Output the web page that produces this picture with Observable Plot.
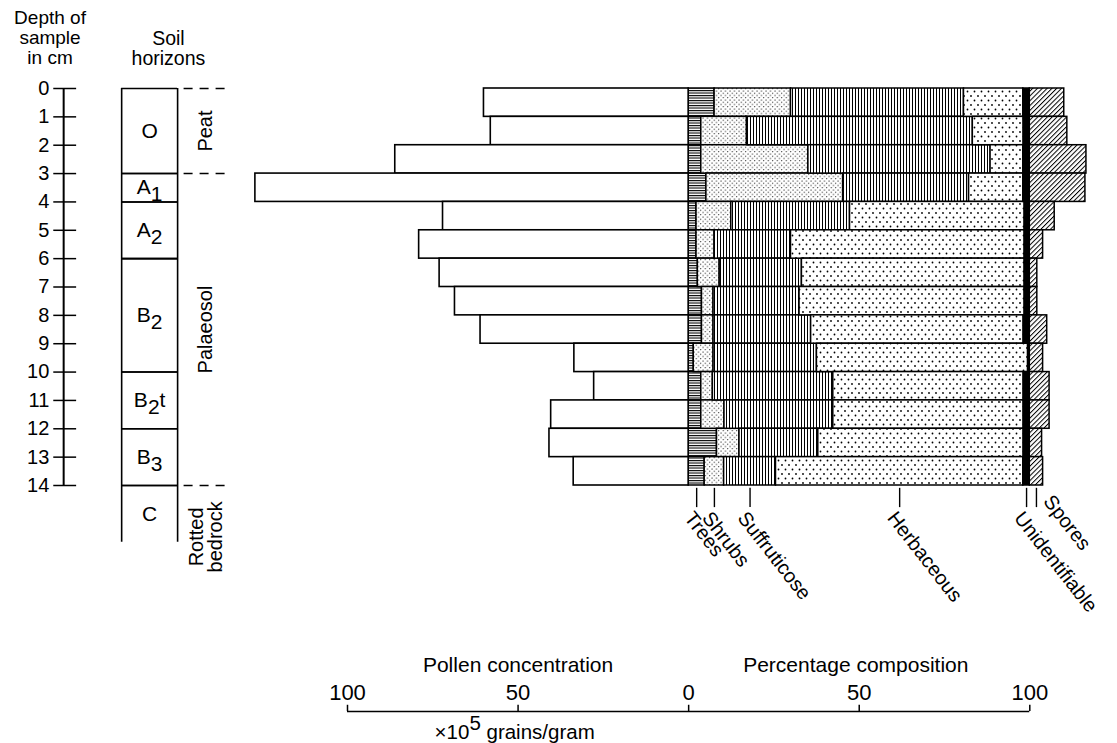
<!DOCTYPE html>
<html>
<head>
<meta charset="utf-8">
<script src="https://cdn.jsdelivr.net/npm/d3@7"></script>
<script src="https://cdn.jsdelivr.net/npm/@observablehq/plot@0.6"></script>
<style>
  html, body { margin: 0; padding: 0; background: #fff; }
  #chart { width: 1117px; height: 743px; overflow: hidden; }
</style>
</head>
<body>
<div id="chart"></div>
<script>
// ---------------- DATA ----------------
const depthTicks = [0,1,2,3,4,5,6,7,8,9,10,11,12,13,14];
const sampleTop = [0,1,2,3,4,5,6,7,8,9,10,11,12,13];           // each sample spans 1 cm
const pollenConcentration = [60,58,86,127,72,79,73,68.5,61,33.5,27.7,40.3,40.8,33.7]; // x10^5 grains/gram

const taxa = ["Trees","Shrubs","Suffruticose","Herbaceous","Unidentifiable","Spores"];
const trees          = [7.6, 3.7, 3.7, 5.2, 2.3, 2.3, 2.7, 3.9, 3.9, 1.5, 3.7, 3.7, 8.3, 4.7];
const shrubs         = [22.4,13.4,31.4,40.1,10.2, 5.3, 6.4, 3.4, 3.4, 5.8, 3.4, 6.8, 6.6, 5.7];
const suffruticose   = [50.7,66.2,53.4,36.9,34.8,22.4,24.1,25.2,28.6,30.3,35.3,31.9,23.1,15.2];
const herbaceous     = [17.4,14.9, 9.6,15.9,51.2,68.5,65.3,66.0,62.3,61.9,55.8,55.8,60.2,72.5];
const unidentifiable = [1.9, 1.8, 1.9, 1.9, 1.5, 1.5, 1.5, 1.5, 1.8, 0.5, 1.8, 1.8, 1.8, 1.9];
const spores         = [10.1,11.0,16.6,16.3, 7.3, 3.9, 2.2, 2.2, 5.1, 3.9, 5.8, 5.8, 3.6, 3.9];

const horizonNames   = ["O","A_{1}","A_{2}","B_{2}","B_{2}t","B_{3}","C"];
const horizonTops    = [0,3,4,6,10,12,14];
const horizonBottoms = [3,4,6,10,12,14,16];

const formationNames   = ["Peat","Palaeosol","Rotted\nbedrock"];
const formationTops    = [0,3,14];
const formationBottoms = [3,14,16];

const axisTicks = [-100,-50,0,50,100];   // left half: pollen concentration, right half: percentage

// ---------------- DERIVED TABLES ----------------
const series = [trees, shrubs, suffruticose, herbaceous, unidentifiable, spores];
const segments = sampleTop.flatMap((top, i) => {
  let c = 0;
  return taxa.map((t, k) => {
    const v = series[k][i];
    const s = {taxon: t, top, bottom: top + 1, x1: c, x2: c + v};
    c += v;
    return s;
  });
});
const concentration = sampleTop.map((top, i) => ({top, bottom: top + 1, value: pollenConcentration[i]}));
const lastTop = sampleTop[sampleTop.length - 1];
const taxonLabels = taxa.map(t => {
  const s = segments.find(d => d.top === lastTop && d.taxon === t);
  return {taxon: t, x: (s.x1 + s.x2) / 2};
});
const horizons = horizonNames.map((n, i) => ({name: n, top: horizonTops[i], bottom: horizonBottoms[i]}));
const formations = formationNames.map((n, i) => ({name: n, top: formationTops[i], bottom: formationBottoms[i]}));

// ---------------- LAYOUT (in scale units) ----------------
const X = {depthAxis: -183.2, tick1: -186.1, tick2: -179.4, depthLabel: -187.4,
           colL: -166.2, colR: -149.8, dash1: -147.9, dash2: -134.9, formation: -141.5,
           depthHead: -187.2, soilHead: -152.5};
const Y = {depthHead: -1.78, soilHead: -1.42, catTick1: 14.1, catTick2: 14.78,
           axis: 21.97, tickLabel: 21.3, axisTitle: 20.35, units: 22.72};

const patternFill = {
  Trees: "url(#pat-trees)", Shrubs: "url(#pat-shrubs)", Suffruticose: "url(#pat-suff)",
  Herbaceous: "url(#pat-herb)", Unidentifiable: "black", Spores: "url(#pat-spores)"
};

function patterns() {
  const defs = d3.create("svg:defs");
  const add = (id, w, h, draw, transform) => {
    const p = defs.append("pattern").attr("id", id).attr("patternUnits", "userSpaceOnUse")
      .attr("width", w).attr("height", h);
    if (transform) p.attr("patternTransform", transform);
    p.append("rect").attr("width", w).attr("height", h).attr("fill", "white");
    draw(p);
  };
  add("pat-trees", 6, 2.5, p => p.append("rect").attr("width", 6).attr("height", 1.1).attr("fill", "black"));
  add("pat-shrubs", 4.5, 4.5, p => {
    p.append("circle").attr("cx", 1).attr("cy", 1).attr("r", 0.65).attr("fill", "black");
    p.append("circle").attr("cx", 3.25).attr("cy", 3.25).attr("r", 0.65).attr("fill", "black");
  });
  add("pat-suff", 3, 6, p => p.append("rect").attr("width", 1).attr("height", 6).attr("fill", "black"));
  add("pat-herb", 7, 9, p => {
    p.append("circle").attr("cx", 1.5).attr("cy", 1.5).attr("r", 0.9).attr("fill", "black");
    p.append("circle").attr("cx", 5).attr("cy", 6).attr("r", 0.9).attr("fill", "black");
  });
  add("pat-spores", 3.4, 6, p => p.append("rect").attr("width", 1).attr("height", 6).attr("fill", "black"), "rotate(45)");
  return defs.node();
}

const font = "'Liberation Sans', Arial, Helvetica, sans-serif";
const lastTaxon = taxa[taxa.length - 1];

const plot = Plot.plot({
  width: 1117,
  height: 743,
  margin: 0,
  x: {domain: [-100, 100], range: [347, 1029.3], axis: null},
  y: {domain: [0, 14], range: [88, 485], axis: null},
  style: {fontFamily: font, fontSize: "21px", color: "black", background: "white", overflow: "visible"},
  marks: [
    patterns,
    // percentage composition
    ...taxa.map(t => Plot.rect(segments.filter(d => d.taxon === t), {
      x1: "x1", x2: "x2", y1: "top", y2: "bottom",
      fill: patternFill[t], stroke: "black", strokeWidth: 1.5
    })),
    // pollen concentration (to the left)
    Plot.rect(concentration, {x1: d => -d.value, x2: 0, y1: "top", y2: "bottom",
      fill: "white", stroke: "black", strokeWidth: 1.6}),

    // depth axis
    Plot.ruleX([X.depthAxis], {x: d => d, y1: depthTicks[0], y2: depthTicks[depthTicks.length - 1], strokeWidth: 2}),
    Plot.ruleY(depthTicks, {y: d => d, x1: X.tick1, x2: X.tick2, strokeWidth: 1.5}),
    Plot.text(depthTicks, {y: d => d, x: X.depthLabel, text: d => String(d), textAnchor: "end", fontSize: 20}),
    Plot.text(["Depth of\nsample\nin cm"], {x: X.depthHead, y: Y.depthHead, text: d => d, lineHeight: 1.05, fontSize: 19}),

    // soil horizons column
    Plot.text(["Soil\nhorizons"], {x: X.soilHead, y: Y.soilHead, text: d => d, lineHeight: 1.05, fontSize: 19.5}),
    Plot.ruleY(horizons, {y: "top", x1: X.colL, x2: X.colR, strokeWidth: 1.6}),
    Plot.ruleY(horizons.slice(0, -1), {y: "bottom", x1: X.colL, x2: X.colR, strokeWidth: 1.6}),
    Plot.ruleX([X.colL, X.colR], {x: d => d, y1: horizonTops[0], y2: horizonBottoms[horizonBottoms.length - 1], strokeWidth: 1.6}),
    Plot.text(horizons, {x: (X.colL + X.colR) / 2, y: d => (d.top + d.bottom) / 2, text: "name", fontSize: 21}),

    // formations
    Plot.ruleY(formations, {y: "top", x1: X.dash1, x2: X.dash2, strokeDasharray: "9,7", strokeWidth: 1.5}),
    Plot.text(formations.slice(0, 2), {x: X.formation, y: d => (d.top + d.bottom) / 2, text: "name", rotate: -90, fontSize: 20}),
    Plot.text(formations.slice(2), {x: X.formation, y: d => (d.top + d.bottom) / 2, text: "name", rotate: -90, fontSize: 20, lineHeight: 0.95, dy: 23}),

    // taxon labels
    Plot.ruleX(taxonLabels, {x: "x", y1: Y.catTick1, y2: Y.catTick2, strokeWidth: 1.4}),
    Plot.text(taxonLabels.filter(d => d.taxon !== lastTaxon), {x: "x", y: Y.catTick2, text: "taxon", rotate: 52,
      textAnchor: "start", lineAnchor: "top", dy: 2, dx: -2, fontSize: 20}),
    Plot.text(taxonLabels.filter(d => d.taxon === lastTaxon), {x: "x", y: Y.catTick2, text: "taxon", rotate: 52,
      textAnchor: "start", lineAnchor: "bottom", dy: -6, dx: 6, fontSize: 20}),

    // bottom axis
    Plot.ruleY([Y.axis], {y: d => d, x1: axisTicks[0], x2: axisTicks[axisTicks.length - 1], strokeWidth: 1.6}),
    Plot.ruleX(axisTicks, {x: d => d, y1: Y.axis - 0.22, y2: Y.axis, strokeWidth: 1.5}),
    Plot.text(axisTicks, {x: d => d, y: Y.tickLabel, text: d => String(Math.abs(d)), fontSize: 22}),
    Plot.text(["Pollen concentration"], {x: -50, y: Y.axisTitle, text: d => d, fontSize: 21}),
    Plot.text(["Percentage composition"], {x: 49, y: Y.axisTitle, text: d => d, fontSize: 21}),
    Plot.text(["×10^{5} grains/gram"], {x: -51, y: Y.units, text: d => d, fontSize: 20.5})
  ]
});

// sub/superscript markup -> tspans
d3.select(plot).selectAll("text").each(function() {
  const el = this;
  if (el.querySelector("tspan")) return;
  const s = el.textContent;
  if (!/[_^]\{/.test(s)) return;
  el.textContent = "";
  const parts = s.split(/([_^]\{[^}]*\})/).filter(p => p.length);
  let shift = 0;
  for (const p of parts) {
    const m = p.match(/^([_^])\{([^}]*)\}$/);
    const t = d3.select(el).append("tspan");
    if (m) {
      const target = m[1] === "_" ? 0.32 : -0.45;
      t.attr("dy", (target - shift) + "em").text(m[2]);
      shift = target;
    } else {
      t.attr("dy", (0 - shift) + "em").text(p);
      shift = 0;
    }
  }
});

document.getElementById("chart").appendChild(plot);
</script>
</body>
</html>
